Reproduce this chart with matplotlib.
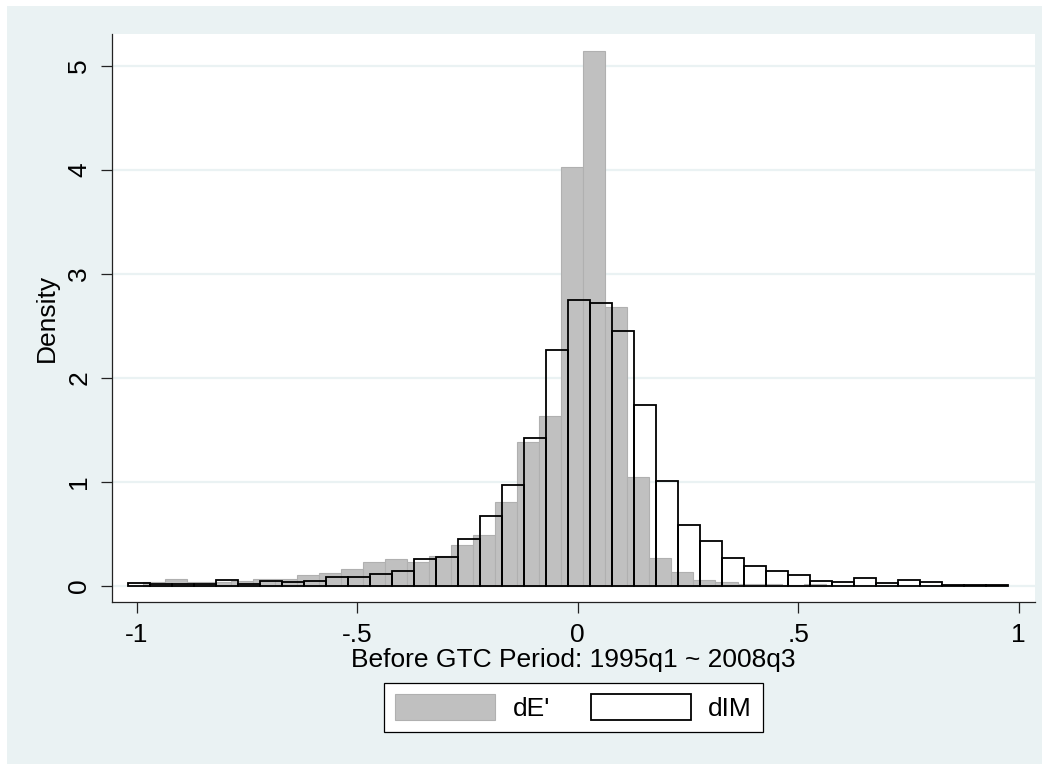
import numpy as np
import matplotlib
matplotlib.use("Agg")
import matplotlib.pyplot as plt
from matplotlib.patches import Rectangle

plt.rcParams['font.family'] = ['Liberation Sans', 'DejaVu Sans']

# histogram bins (density per bin)
bin_width = 0.0499
de_start = -0.985
dim_start = -1.02

de_density = [0.033, 0.062, 0.034, 0.038, 0.042, 0.068, 0.062, 0.102, 0.12, 0.165,
              0.23, 0.26, 0.228, 0.29, 0.39, 0.49, 0.80, 1.385, 1.635, 4.026,
              5.14, 2.683, 1.045, 0.263, 0.13, 0.055, 0.032, 0.02, 0.017, 0.01,
              0.015]
dim_density = [0.029, 0.02, 0.02, 0.02, 0.052, 0.013, 0.042, 0.033, 0.043, 0.087,
               0.08, 0.115, 0.14, 0.252, 0.28, 0.45, 0.673, 0.965, 1.417, 2.27,
               2.75, 2.715, 2.446, 1.74, 1.01, 0.58, 0.433, 0.263, 0.19, 0.145,
               0.103, 0.048, 0.036, 0.071, 0.03, 0.055, 0.04, 0.01, 0.01, 0.01]

xticks = [-1, -0.5, 0, 0.5, 1]
xtick_labels = ['-1', '-.5', '0', '.5', '1']
yticks = [0, 1, 2, 3, 4, 5]

BG = '#eaf2f3'
FS = 19

fig = plt.figure(figsize=(10.49, 7.72), dpi=100)
fig.patch.set_facecolor('white')
fig.patches.append(Rectangle((7 / 1049, 8 / 772), 1035 / 1049, 758 / 772,
                             transform=fig.transFigure, facecolor=BG,
                             edgecolor='none', zorder=-10))

ax = fig.add_axes([0.1068, 0.2202, 0.8799, 0.7358])
ax.set_facecolor('white')

de_edges = de_start + bin_width * np.arange(len(de_density))
dim_edges = dim_start + bin_width * np.arange(len(dim_density))

bars_de = ax.bar(de_edges, de_density, width=bin_width, align='edge',
                 color='#c0c0c0', edgecolor='#b0b0b0', linewidth=0.8,
                 label="dE'", zorder=2)
bars_dim = ax.bar(dim_edges, dim_density, width=bin_width, align='edge',
                  fill=False, edgecolor='black', linewidth=1.3,
                  label='dIM', zorder=3)

ax.set_xlim(-1.056, 1.037)
ax.set_ylim(-0.157, 5.305)

ax.set_axisbelow(True)
ax.yaxis.grid(True, color=BG, linewidth=1.6)
ax.xaxis.grid(False)

ax.set_xticks(xticks)
ax.set_xticklabels(xtick_labels)
ax.set_yticks(yticks)
ax.set_yticklabels([str(v) for v in yticks], rotation=90, va='center')

for s in ['top', 'right']:
    ax.spines[s].set_visible(False)
for s in ['left', 'bottom']:
    ax.spines[s].set_color('#222222')
    ax.spines[s].set_linewidth(0.9)

ax.tick_params(axis='both', length=8, width=0.9, color='#222222',
               labelsize=FS, pad=7)

ax.set_xlabel('Before GTC Period: 1995q1 ~ 2008q3', fontsize=FS, labelpad=1)
ax.set_ylabel('Density', fontsize=FS, labelpad=6)

leg = fig.legend(handles=[bars_de, bars_dim], loc='upper center',
                 bbox_to_anchor=(573.5 / 1049, (772 - 683) / 772), ncol=2,
                 fontsize=FS, frameon=True, fancybox=False, framealpha=1,
                 edgecolor='black', handlelength=3.8, handleheight=1.12,
                 handletextpad=0.65, columnspacing=1.55, borderpad=0.42,
                 borderaxespad=0)
leg.get_frame().set_linewidth(0.9)

fig.savefig('out.png', dpi=100, facecolor=fig.get_facecolor())
